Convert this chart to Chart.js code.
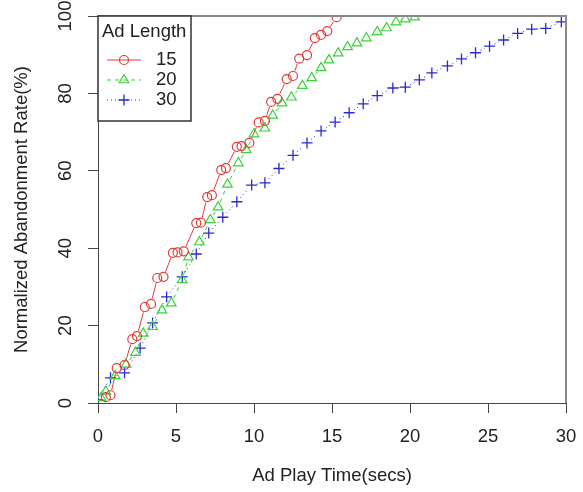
<!DOCTYPE html>
<html>
<head>
<meta charset="utf-8">
<script src="https://cdn.jsdelivr.net/npm/chart.js@4.4.0/dist/chart.umd.min.js"></script>
<style>
    html, body { margin: 0; padding: 0; background: #fff; }
</style>
</head>
<body>
<canvas id="abandonChart" width="583" height="492"></canvas>
<script>
// series: play time (secs) and normalized abandonment rate (%)
const seriesLabels = ['15', '20', '30'];

const time15 = [0.5, 0.8, 1.2, 1.7, 2.2, 2.5, 3.0, 3.4, 3.8, 4.2, 4.8, 5.1, 5.5, 6.3, 6.6, 7.0, 7.3,
    7.9, 8.2, 8.9, 9.2, 9.7, 10.3, 10.7, 11.1, 11.5, 12.1, 12.5, 12.9, 13.4, 13.9, 14.3, 14.7, 15.3];
const rate15 = [1.5, 2.0, 9.0, 9.8, 16.5, 17.3, 24.8, 25.6, 32.3, 32.6, 38.8, 38.9, 39.2, 46.5, 46.6, 53.2, 53.7,
    60.2, 60.7, 66.2, 66.4, 67.2, 72.5, 72.9, 77.8, 78.6, 83.7, 84.5, 89.0, 89.9, 94.3, 95.1, 96.1, 99.7];

const time20 = [0.2, 0.5, 1.1, 1.8, 2.4, 2.9, 3.5, 4.1, 4.7, 5.4, 5.8, 6.5, 7.2, 7.7, 8.3, 9.0, 9.5, 10.0,
    10.7, 11.2, 11.8, 12.4, 13.1, 13.7, 14.3, 14.8, 15.4, 16.0, 16.6, 17.2, 17.9, 18.5, 19.1, 19.7, 20.3];
const rate20 = [1.3, 3.0, 7.0, 10.0, 13.0, 18.0, 19.7, 24.0, 25.8, 31.8, 37.7, 41.6, 47.3, 50.6, 56.5, 62.0, 65.4, 69.5,
    71.0, 74.3, 77.5, 79.0, 82.0, 84.0, 86.6, 88.6, 90.4, 92.0, 93.0, 94.3, 95.9, 96.9, 98.4, 99.2, 99.7];

const time30 = [0, 0.8, 1.7, 2.7, 3.5, 4.4, 5.4, 6.3, 7.1, 8.0, 8.9, 9.85, 10.7, 11.6, 12.5, 13.4, 14.3,
    15.2, 16.1, 17.0, 17.9, 18.9, 19.7, 20.6, 21.4, 22.4, 23.3, 24.2, 25.1, 26.0, 26.9, 27.8, 28.7, 29.7];
const rate30 = [0.8, 6.5, 7.8, 14.2, 20.7, 27.4, 32.6, 38.5, 43.9, 48.0, 52.0, 56.3, 56.9, 60.6, 64.0, 67.2, 70.3,
    72.6, 75.0, 77.3, 79.4, 81.4, 81.6, 83.5, 85.3, 87.1, 88.9, 90.5, 92.2, 93.8, 95.5, 96.6, 96.8, 98.5];

const xTicks = [0, 5, 10, 15, 20, 25, 30];
const yTicks = [0, 20, 40, 60, 80, 100];

const FONT = "'Liberation Sans', Arial, Helvetica, sans-serif";
const FONT_SIZE = 18.5;
const INK = '#222';

Chart.defaults.font.family = FONT;
Chart.defaults.font.size = FONT_SIZE;
Chart.defaults.color = INK;

function toPoints(xs, ys) {
    return xs.map((x, i) => ({ x: x, y: ys[i] }));
}

// lines like R type = "b": segments between points, with a gap round each point
const gapLinePlugin = {
    id: 'gapLines',
    beforeDatasetsDraw(chart) {
        const ctx = chart.ctx;
        const a = chart.chartArea;
        const gap = 5.5;
        ctx.save();
        ctx.beginPath();
        ctx.rect(a.left, a.top, a.right - a.left, a.bottom - a.top);
        ctx.clip();
        chart.data.datasets.forEach((ds, di) => {
            const pts = chart.getDatasetMeta(di).data;
            ctx.strokeStyle = ds.borderColor;
            ctx.lineWidth = ds.borderWidth;
            ctx.setLineDash(ds.borderDash || []);
            for (let i = 0; i < pts.length - 1; i++) {
                const p = pts[i], q = pts[i + 1];
                const dx = q.x - p.x, dy = q.y - p.y;
                const d = Math.hypot(dx, dy);
                if (d <= 2 * gap) continue;
                const ux = dx / d, uy = dy / d;
                ctx.beginPath();
                ctx.moveTo(p.x + ux * gap, p.y + uy * gap);
                ctx.lineTo(q.x - ux * gap, q.y - uy * gap);
                ctx.stroke();
            }
        });
        ctx.restore();
    }
};

// y tick labels are rotated like in R (las = 0)
const yLabelPlugin = {
    id: 'yLabels',
    afterDraw(chart) {
        const ctx = chart.ctx;
        const s = chart.scales.y;
        ctx.save();
        ctx.font = FONT_SIZE + 'px ' + FONT;
        ctx.fillStyle = INK;
        ctx.textAlign = 'center';
        ctx.textBaseline = 'middle';
        yTicks.forEach(v => {
            ctx.save();
            ctx.translate(s.right - 32, s.getPixelForValue(v));
            ctx.rotate(-Math.PI / 2);
            ctx.fillText(String(v), 0, 0);
            ctx.restore();
        });
        ctx.restore();
    }
};

// grey box on top and right, like box() in R
const boxPlugin = {
    id: 'plotBox',
    afterDatasetsDraw(chart) {
        const ctx = chart.ctx;
        const a = chart.chartArea;
        ctx.save();
        ctx.strokeStyle = '#8a8a8a';
        ctx.lineWidth = 2;
        ctx.beginPath();
        ctx.moveTo(a.left, a.top);
        ctx.lineTo(a.right, a.top);
        ctx.lineTo(a.right, a.bottom);
        ctx.stroke();
        ctx.restore();
    }
};

// legend box in the top left corner
const legendPlugin = {
    id: 'boxLegend',
    afterDraw(chart) {
        const ctx = chart.ctx;
        const a = chart.chartArea;
        const bx = a.left, by = a.top, bw = 93, bh = 105;
        ctx.save();
        ctx.fillStyle = '#fff';
        ctx.fillRect(bx, by, bw, bh);
        ctx.strokeStyle = '#333';
        ctx.lineWidth = 1.5;
        ctx.strokeRect(bx, by, bw, bh);

        ctx.font = FONT_SIZE + 'px ' + FONT;
        ctx.fillStyle = INK;
        ctx.textBaseline = 'middle';
        ctx.textAlign = 'left';
        ctx.fillText('Ad Length', bx + 4, by + 16);

        chart.data.datasets.forEach((ds, i) => {
            const y = by + 44 + i * 20;
            ctx.strokeStyle = ds.borderColor;
            ctx.lineWidth = 1;
            ctx.setLineDash(ds.borderDash || []);
            ctx.beginPath();
            ctx.moveTo(bx + 9, y);
            ctx.lineTo(bx + 43, y);
            ctx.stroke();
            ctx.setLineDash([]);
            ctx.fillStyle = 'rgba(0,0,0,0)';
            ctx.lineWidth = ds.pointBorderWidth;
            Chart.helpers.drawPoint(ctx, {
                pointStyle: ds.pointStyle,
                radius: ds.pointRadius,
                rotation: 0,
                borderWidth: ds.pointBorderWidth
            }, bx + 26, y);
            ctx.fillStyle = INK;
            ctx.fillText(ds.label, bx + 58, y);
        });
        ctx.restore();
    }
};

const ctx = document.getElementById('abandonChart').getContext('2d');

new Chart(ctx, {
    type: 'scatter',
    data: {
        datasets: [
            {
                label: seriesLabels[0],
                data: toPoints(time15, rate15),
                showLine: false,
                borderColor: '#e23a3a',
                borderWidth: 1,
                borderDash: [],
                pointStyle: 'circle',
                pointRadius: 4.5,
                pointBorderWidth: 1.2,
                pointBackgroundColor: 'rgba(0,0,0,0)',
                pointBorderColor: '#e23a3a'
            },
            {
                label: seriesLabels[1],
                data: toPoints(time20, rate20),
                showLine: false,
                borderColor: '#3ad23a',
                borderWidth: 1,
                borderDash: [4, 4],
                pointStyle: 'triangle',
                pointRadius: 5.5,
                pointBorderWidth: 1.2,
                pointBackgroundColor: 'rgba(0,0,0,0)',
                pointBorderColor: '#3ad23a'
            },
            {
                label: seriesLabels[2],
                data: toPoints(time30, rate30),
                showLine: false,
                borderColor: '#2a2ad2',
                borderWidth: 1,
                borderDash: [1, 3],
                pointStyle: 'cross',
                pointRadius: 5.5,
                pointBorderWidth: 1.3,
                pointBackgroundColor: 'rgba(0,0,0,0)',
                pointBorderColor: '#2a2ad2'
            }
        ]
    },
    options: {
        responsive: false,
        animation: false,
        layout: { padding: { left: 9, top: 16, right: 17, bottom: 4 } },
        plugins: {
            legend: { display: false },
            tooltip: { enabled: false }
        },
        scales: {
            x: {
                type: 'linear',
                min: 0,
                max: 30,
                afterBuildTicks: s => { s.ticks = xTicks.map(v => ({ value: v })); },
                afterFit: s => {
                    s.height = 85;
                    s.paddingLeft = 0;
                    s.paddingRight = 0;
                },
                ticks: { padding: 13, maxRotation: 0 },
                grid: { drawOnChartArea: false, drawTicks: true, tickLength: 10, color: '#444' },
                border: { display: true, color: '#444', width: 1 },
                title: {
                    display: true,
                    text: 'Ad Play Time(secs)',
                    padding: { top: 4, bottom: 1 }
                }
            },
            y: {
                type: 'linear',
                min: 0,
                max: 100,
                afterBuildTicks: s => { s.ticks = yTicks.map(v => ({ value: v })); },
                afterFit: s => { s.width = 89; },
                ticks: { display: false },
                grid: { drawOnChartArea: false, drawTicks: true, tickLength: 10, color: '#444' },
                border: { display: true, color: '#444', width: 1 },
                title: {
                    display: true,
                    text: 'Normalized Abandonment Rate(%)',
                    padding: { top: 2, bottom: 4 }
                }
            }
        }
    },
    plugins: [gapLinePlugin, yLabelPlugin, boxPlugin, legendPlugin]
});
</script>
</body>
</html>
